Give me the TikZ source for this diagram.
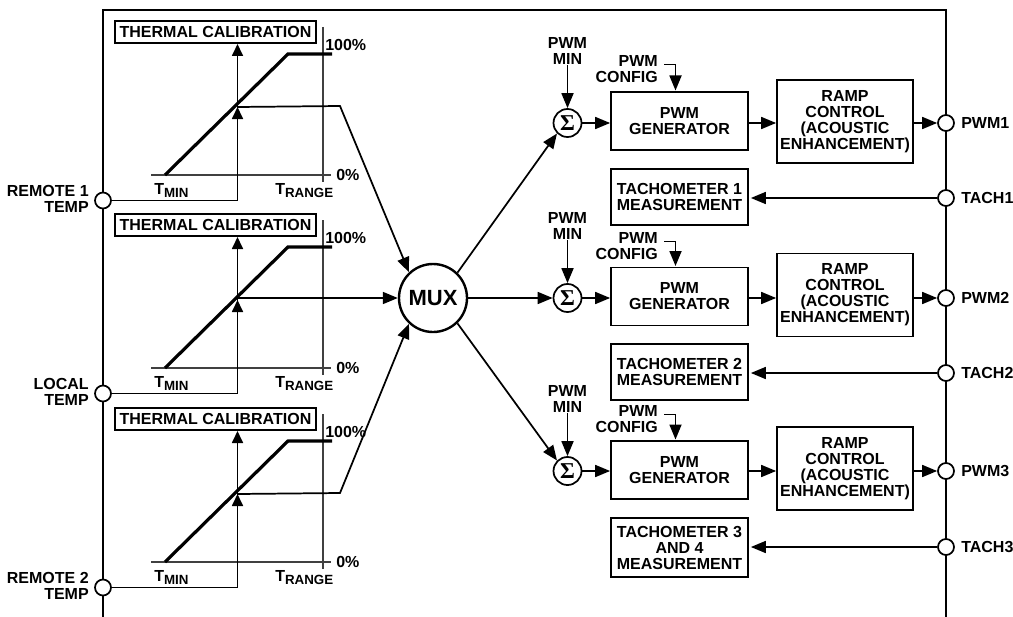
\documentclass[tikz,border=0pt]{standalone}
\usepackage{fontspec}
\setmainfont{Liberation Sans}[BoldFont=Liberation Sans Bold]
\newfontfamily\sigmafont{Liberation Serif Bold}
\usetikzlibrary{arrows.meta}
\newcommand{\pxu}[1]{#1*0.75pt}
\newcommand{\sublabel}[1]{T\raisebox{-2.6pt}{\fontsize{10}{10}\selectfont #1}}
\tikzset{
  x=0.75pt,y=-0.75pt,
  txt/.style={font=\fontsize{12}{12}\selectfont\bfseries,inner sep=0pt,align=center},
  boxn/.style={txt,draw=black,line width=1.3pt,fill=white},
  pin/.style={circle,draw=black,line width=1.3pt,fill=white,minimum size=\pxu{16},inner sep=0pt},
  sumn/.style={circle,draw=black,line width=1.3pt,fill=white,minimum size=\pxu{28},inner sep=0pt,font=\fontsize{17}{17}\sigmafont},
  muxn/.style={circle,draw=black,line width=1.8pt,fill=white,minimum size=\pxu{68},inner sep=0pt,font=\fontsize{16.5}{16.5}\selectfont\bfseries},
  wire/.style={line width=1.3pt,draw=black},
  arrowed/.style={wire,-{Triangle[length=\pxu{15},width=\pxu{12}]}},
  shortarrow/.style={wire,-{Triangle[length=\pxu{12},width=\pxu{11}]}},
  axis/.style={line width=0.8pt,draw=black!75},
  curve/.style={line width=2.4pt,draw=black,line join=miter},
}
\begin{document}
\begin{tikzpicture}
\useasboundingbox (0,0) rectangle (1013,617);
% frame
\draw[line width=1.7pt,line join=miter] (103,617) -- (103,10) -- (946,10) -- (946,617);

% thermal calibration panels
\foreach \i/\d/\a/\b in {1/0/REMOTE 1/TEMP,2/193/LOCAL/TEMP,3/387/REMOTE 2/TEMP}{
  \begin{scope}[shift={(0,\d)}]
    \node[boxn,minimum width=\pxu{201},minimum height=\pxu{22}] (cal\i) at (215.5,32) {THERMAL CALIBRATION};
    \node[pin] (in\i) at (103,200.5) {};
    \node[txt,align=right,anchor=east] (inl\i) at (89,198.5) {\a\\\b};
    \node[txt,anchor=west] (hi\i) at (325,44.5) {100\%};
    \node[txt,anchor=west] (lo\i) at (336,175) {0\%};
    \node[txt,anchor=base west] (tmin\i) at (154,194) {\sublabel{MIN}};
    \node[txt,anchor=base west] (trange\i) at (275,194) {\sublabel{RANGE}};
    \coordinate (top\i) at (237.5,44);
    \coordinate (mid\i) at (237.5,107);
    \coordinate (ax0\i) at (151,175);
    \coordinate (ax1\i) at (331,175);
    \coordinate (v0\i) at (323,27);
    \coordinate (v1\i) at (323,182);
    \coordinate (c0\i) at (165,175);
    \coordinate (c1\i) at (288,54);
    \coordinate (c2\i) at (332,54);
    \draw[axis] (ax0\i) -- (ax1\i);
    \draw[axis] (v0\i) -- (v1\i);
    \draw[curve] (c0\i) -- (c1\i) -- (c2\i);
    \draw[shortarrow] (in\i.east) -| (top\i);
    \draw[shortarrow] (237.5,130) -- (mid\i);
  \end{scope}
}

% mux
\node[muxn] (mux) at (433,298) {MUX};
\coordinate (o1) at (340,106);
\coordinate (o3) at (340,493);
\draw[arrowed] (mid1) -- (o1) -- (mux.133);
\draw[arrowed] (mid2 |- mux) -- (mux.west);
\draw[arrowed] (mid3) -- (o3) -- (mux.-133);

% PWM rows: index / sum y / generator y / ramp y / tach y / tach box y / config y / tach box height / tach text
\foreach \i/\sy/\gy/\ry/\ty/\by/\cy/\bh/\tt in {
  1/123/121/121.5/198/197/69/56/{TACHOMETER 1\\MEASUREMENT},
  2/298/296.5/295/373/372/246/56/{TACHOMETER 2\\MEASUREMENT},
  3/471/470/468.5/547/547.5/419/59/{TACHOMETER 3\\AND 4\\MEASUREMENT}}{
  \node[sumn] (sig\i) at (567.5,\sy) {Σ};
  \node[txt] (min\i) at (567.5,\sy-72) {PWM\\MIN};
  \node[boxn,minimum width=\pxu{137},minimum height=\pxu{58}] (gen\i) at (679.5,\gy) {PWM\\GENERATOR};
  \node[boxn,minimum width=\pxu{136},minimum height=\pxu{83}] (ramp\i) at (845,\ry) {RAMP\\CONTROL\\(ACOUSTIC\\ENHANCEMENT)};
  \node[boxn,minimum width=\pxu{137},minimum height=\pxu{\bh}] (tbox\i) at (679.5,\by) {\tt};
  \node[txt,align=right,anchor=east] (cfg\i) at (658,\cy) {PWM\\CONFIG};
  \node[pin] (pwm\i) at (946,\sy) {};
  \node[pin] (tach\i) at (946,\ty) {};
  \node[txt,anchor=west] (pwml\i) at (961,\sy) {PWM\i};
  \node[txt,anchor=west] (tachl\i) at (961,\ty) {TACH\i};
  \coordinate (cs\i) at (664,\cy-4.5);
  \coordinate (ct\i) at (675.5,\gy-30.5);
  \draw[arrowed] (min\i.south) -- (sig\i.north);
  \draw[arrowed] (cs\i) -| (ct\i);
  \draw[arrowed] (sig\i.east) -- (gen\i.west |- sig\i);
  \draw[arrowed] (gen\i.east |- sig\i) -- (ramp\i.west |- sig\i);
  \draw[arrowed] (ramp\i.east |- pwm\i) -- (pwm\i.west);
  \draw[arrowed,shorten >=1.5pt] (tach\i.west) -- (tbox\i.east |- tach\i);
}
\draw[arrowed] (mux.46) -- (sig1.225);
\draw[arrowed] (mux.east) -- (sig2.west);
\draw[arrowed] (mux.-46) -- (sig3.135);
\end{tikzpicture}
\end{document}
